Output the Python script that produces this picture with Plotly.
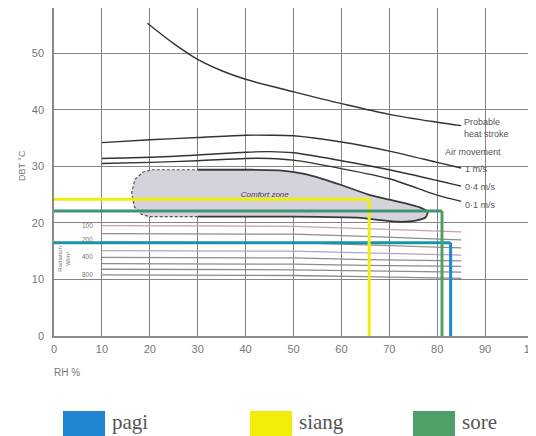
import plotly.graph_objects as go

# ---------------- data ----------------
rh_ticks = [0, 10, 20, 30, 40, 50, 60, 70, 80, 90, 100]
dbt_ticks = [0, 10, 20, 30, 40, 50]

# Probable heat stroke curve
heat_rh = [19.5, 25, 30, 35, 40, 50, 60, 70, 80, 85]
heat_dbt = [55.3, 51.7, 48.9, 46.9, 45.4, 43.2, 41.1, 39.2, 37.8, 37.2]

# Air movement curves
air_rh = [10, 20, 30, 40, 45, 50, 60, 70, 80, 85]
air_1 = [34.2, 34.7, 35.1, 35.5, 35.5, 35.4, 34.3, 32.7, 30.7, 29.7]
air_04 = [31.4, 31.6, 32.0, 32.5, 32.6, 32.4, 31.0, 29.4, 27.5, 26.5]
air_01 = [30.5, 30.7, 31.0, 31.4, 31.4, 31.1, 29.6, 27.8, 24.9, 23.8]
air_labels = ["1 m/s", "0·4 m/s", "0·1 m/s"]

# Comfort zone outline
comfort_rh = [20.5, 30, 40, 47, 52, 56, 60, 66, 70, 74, 76.5, 78.0, 77.6, 75.5, 72, 68, 64, 50, 40, 30,
              20, 18.3, 16.8, 16.2, 16.9, 18.6, 20.5]
comfort_dbt = [29.4, 29.4, 29.4, 29.3, 28.7, 27.8, 26.7, 24.9, 24.1, 23.3, 22.7, 21.9, 21.0, 20.4, 20.2, 20.5, 20.9, 21.1, 21.1, 21.1,
               21.1, 21.5, 22.8, 25.3, 27.7, 29.0, 29.4]

# Radiation lines (W/m²)
rad_rh = [10, 30, 50, 65, 85]
rad_dbt = [
    [19.5, 19.5, 19.4, 19.0, 18.4],
    [18.1, 18.1, 18.0, 17.6, 17.0],
    [16.6, 16.6, 16.5, 16.1, 15.6],
    [15.1, 15.1, 15.0, 14.7, 14.3],
    [13.9, 13.9, 13.8, 13.5, 13.3],
    [12.8, 12.8, 12.7, 12.5, 12.3],
    [11.8, 11.8, 11.7, 11.5, 11.3],
    [10.8, 10.8, 10.7, 10.5, 10.2],
]
rad_label_text = ["100", "200", "400", "800"]
rad_label_dbt = [19.6, 17.0, 14.0, 10.8]

# Measured conditions
series_names = ["pagi", "siang", "sore"]
series_dbt = [16.5, 24.2, 22.1]
series_rh = [82.8, 65.8, 81.0]
series_colors = ["#1f86d4", "#f2ee0a", "#4f9f68"]
series_hcolors = ["#1a93a8", "#f2ee0a", "#3f9473"]

# ---------------- figure ----------------
OFF = 8  # page body margin
W, H = 536, 436
PW, PH = 479, 328
L, T = 54 - OFF, 8 - OFF


def px(xp):
    return (xp - OFF - L) / PW


def py(yp):
    return (T + PH - (yp - OFF)) / PH


fig = go.Figure()

fig.add_trace(go.Scatter(x=comfort_rh, y=comfort_dbt, mode="lines", fill="toself",
                         fillcolor="#d4d3db", line=dict(width=0), hoverinfo="skip", showlegend=False))
left_rh = comfort_rh[19:] + comfort_rh[:2]
left_dbt = comfort_dbt[19:] + comfort_dbt[:2]
fig.add_trace(go.Scatter(x=left_rh, y=left_dbt, mode="lines",
                         line=dict(color="#555", width=1.2, dash="3px,2px"), showlegend=False))
fig.add_trace(go.Scatter(x=comfort_rh[1:20], y=comfort_dbt[1:20], mode="lines",
                         line=dict(color="#3a3a3a", width=1.8, shape="spline", smoothing=0.6),
                         showlegend=False))

rad_colors = ["#c4a4a8", "#8e8e8e", "#909090", "#b3a3c8", "#8c8c8c", "#8c8c8c", "#8c8c8c", "#8a8a8a"]
for vals, c in zip(rad_dbt, rad_colors):
    fig.add_trace(go.Scatter(x=rad_rh, y=vals, mode="lines", line=dict(color=c, width=1.3),
                             showlegend=False))

for vals in [air_1, air_04, air_01]:
    fig.add_trace(go.Scatter(x=air_rh, y=vals, mode="lines",
                             line=dict(color="#333", width=1.4, shape="spline", smoothing=0.8),
                             showlegend=False))
fig.add_trace(go.Scatter(x=heat_rh, y=heat_dbt, mode="lines",
                         line=dict(color="#333", width=1.4, shape="spline", smoothing=1.0),
                         showlegend=False))

fig.add_trace(go.Scatter(x=[44], y=[25.0], mode="text", text=["<i>Comfort zone</i>"],
                         textfont=dict(size=8, color="#444", family="Liberation Sans"),
                         showlegend=False))

# measured lines
for name, t, rh, c, hc in zip(series_names, series_dbt, series_rh, series_colors, series_hcolors):
    fig.add_trace(go.Scatter(x=[0, rh], y=[t, t], mode="lines", line=dict(color=hc, width=3),
                             name=name, showlegend=False))
    fig.add_trace(go.Scatter(x=[rh, rh], y=[t, 0], mode="lines", line=dict(color=c, width=3),
                             name=name, showlegend=False))

ann = []
lab_font = dict(size=9, color="#555", family="Liberation Sans")
ann.append(dict(x=85.2, y=36.7, xref="x", yref="y", text="Probable<br>heat stroke", showarrow=False,
                xanchor="left", yanchor="middle", align="left", font=lab_font))
ann.append(dict(x=81.2, y=32.6, xref="x", yref="y", text="Air movement", showarrow=False,
                xanchor="left", yanchor="middle", font=lab_font))
for lbl, t in zip(air_labels, [29.5, 26.4, 23.2]):
    ann.append(dict(x=85.4, y=t, xref="x", yref="y", text=lbl, showarrow=False,
                    xanchor="left", yanchor="middle", font=lab_font))
for lbl, t in zip(rad_label_text, rad_label_dbt):
    ann.append(dict(x=8.6, y=t, xref="x", yref="y", text=lbl, showarrow=False,
                    xanchor="right", yanchor="middle",
                    font=dict(size=6.5, color="#777", family="Liberation Sans")))
ann.append(dict(x=2.2, y=13.6, xref="x", yref="y", text="Radiation<br>W/m²", showarrow=False,
                textangle=-90, font=dict(size=6, color="#777", family="Liberation Sans")))

# axis titles
ann.append(dict(x=px(15), y=py(166), xref="paper", yref="paper", text="DBT °C", showarrow=False,
                textangle=-90, font=dict(size=9, color="#777", family="Liberation Sans")))
ann.append(dict(x=px(52), y=py(372), xref="paper", yref="paper", text="RH %", showarrow=False,
                xanchor="left", yanchor="middle",
                font=dict(size=10, color="#777", family="Liberation Sans")))

# legend (boxes + labels)
shapes = []
legend_x = [63, 250, 413]
for name, c, lx in zip(series_names, series_colors, legend_x):
    shapes.append(dict(type="rect", xref="paper", yref="paper", x0=px(lx), x1=px(lx + 42),
                       y0=py(436), y1=py(411), fillcolor=c, line=dict(width=0)))
    ann.append(dict(x=px(lx + 47), y=py(422), xref="paper", yref="paper", text=name, showarrow=False,
                    xanchor="left", yanchor="middle",
                    font=dict(size=21, color="#555", family="Liberation Serif")))

fig.update_layout(
    width=W, height=H, autosize=False,
    margin=dict(l=L, r=W - L - PW, t=T, b=H - T - PH),
    plot_bgcolor="white", paper_bgcolor="white",
    annotations=ann, shapes=shapes, showlegend=False,
    xaxis=dict(range=[0, 100], tickvals=rh_ticks, showgrid=True, gridcolor="#858585", gridwidth=1,
               zeroline=False, showline=True, linecolor="#8a8a8a", linewidth=1.5, ticks="",
               tickfont=dict(size=11, color="#777", family="Liberation Sans"), ticklabelstandoff=2),
    yaxis=dict(range=[0, 58], tickvals=dbt_ticks, showgrid=True, gridcolor="#858585", gridwidth=1,
               zeroline=False, showline=True, linecolor="#8a8a8a", linewidth=1.5, ticks="",
               tickfont=dict(size=11, color="#777", family="Liberation Sans"), ticklabelstandoff=6),
)

fig.write_html("out.html")
